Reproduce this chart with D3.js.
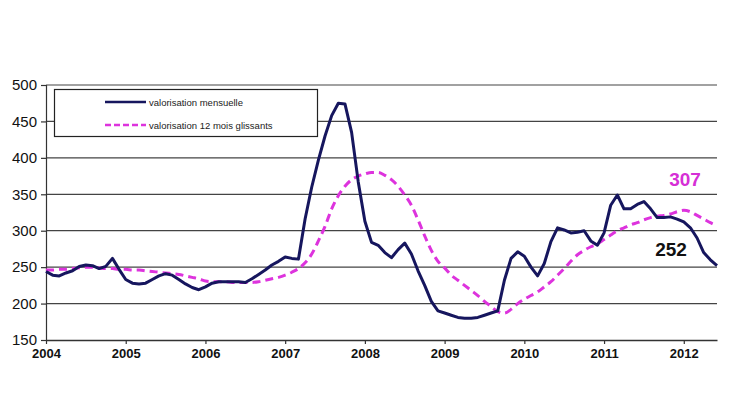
<!DOCTYPE html>
<html><head><meta charset="utf-8">
<script src="https://cdn.jsdelivr.net/npm/d3@7"></script>
<style>body{margin:0;background:#fff}svg{display:block;font-family:"Liberation Sans",Arial,sans-serif}</style>
</head><body><svg id="c" width="747" height="402"></svg>
<script>
const yearLabels = ["2004","2005","2006","2007","2008","2009","2010","2011","2012"];
const yTicks = [150,200,250,300,350,400,450,500];
const seriesNames = ["valorisation mensuelle","valorisation 12 mois glissants"];
// monthly values Jan 2004 .. Jun 2012
const mensuelle = [244,239,238,242,245,251,253,252,248,251,262,247,
  233,228,227,228,233,238,241,239,233,227,222,219,
  223,228,230,230,230,230,229,234,240,246,253,258,
  264,262,261,316,360,397,430,458,475,474,435,367,
  313,284,280,270,263,274,283,268,245,225,203,190,
  187,184,181,180,180,181,184,187,190,232,262,271,
  265,250,238,255,285,304,301,297,298,300,286,280,
  297,335,349,330,330,336,340,330,318,318,319,316,
  312,304,290,270,260,252];
const glissants = [246,246,247,247,248,249,250,250,249,248,248,247,
  247,246,246,245,244,243,242,241,240,238,236,234,
  231,230,230,230,229,229,229,229,230,232,234,236,
  239,243,248,256,268,286,306,330,348,361,370,375,
  378,380,380,376,370,361,349,335,315,293,273,258,
  249,239,232,225,218,211,203,196,189,187,192,200,
  206,211,216,223,230,239,248,258,267,273,278,282,
  288,294,300,304,308,311,315,318,320,321,323,326,
  328,326,321,316,311,307];
const endLabels = ["307","252"];

const svg = d3.select("#c");
const x = d3.scaleLinear().domain([0, mensuelle.length-1]).range([46, 717]);
const y = d3.scaleLinear().domain([150, 500]).range([340, 85]);

// gridlines
svg.append("g").selectAll("line").data(yTicks.filter(d=>d>150)).join("line")
  .attr("x1",46).attr("x2",717).attr("y1",d=>y(d)).attr("y2",d=>y(d))
  .attr("stroke","#444").attr("stroke-width",1.2);

// y axis
const ya = svg.append("g").attr("transform","translate(46,0)")
  .call(d3.axisLeft(y).tickValues(yTicks).tickSize(5).tickPadding(4));
ya.select(".domain").attr("stroke","#333").attr("stroke-width",1.2);
ya.selectAll(".tick line").attr("stroke","#333").attr("stroke-width",1.2);
ya.selectAll("text").attr("font-size",15).attr("fill","#111").attr("font-family","Liberation Sans, Arial, sans-serif");

// x axis
const xa = svg.append("g").attr("transform","translate(0,340)")
  .call(d3.axisBottom(x).tickValues(yearLabels.map((d,i)=>i*12)).tickFormat((d,i)=>yearLabels[i]).tickSize(4).tickSizeOuter(0).tickPadding(5));
xa.select(".domain").attr("stroke","#333").attr("stroke-width",1.5);
xa.selectAll(".tick line").attr("stroke","#333").attr("stroke-width",1.2);
xa.selectAll("text").attr("font-size",13).attr("font-weight","bold").attr("fill","#111").attr("font-family","Liberation Sans, Arial, sans-serif");

const smooth = d3.line().x((d,i)=>x(i)).y(d=>y(d)).curve(d3.curveMonotoneX);
const straight = d3.line().x((d,i)=>x(i)).y(d=>y(d));
svg.append("path").datum(glissants).attr("d",smooth).attr("fill","none")
  .attr("stroke","#dd33dd").attr("stroke-width",3).attr("stroke-dasharray","8,5");
svg.append("path").datum(mensuelle).attr("d",straight).attr("fill","none")
  .attr("stroke","#16165e").attr("stroke-width",3).attr("stroke-linejoin","round");

// legend
const lg = svg.append("g");
lg.append("rect").attr("x",54.5).attr("y",89.5).attr("width",263).attr("height",47)
  .attr("fill","#fff").attr("stroke","#222").attr("stroke-width",1.2);
const legendItems = [{name:seriesNames[0],c:"#16165e",dash:null,yy:102},{name:seriesNames[1],c:"#dd33dd",dash:"6,3",yy:125}];
legendItems.forEach(it=>{
  lg.append("line").attr("x1",105).attr("x2",146).attr("y1",it.yy).attr("y2",it.yy)
    .attr("stroke",it.c).attr("stroke-width",2.5).attr("stroke-dasharray",it.dash);
  lg.append("text").attr("x",149).attr("y",it.yy+3.5).attr("font-size",9.5).attr("fill","#222").text(it.name);
});

// end labels
svg.append("text").attr("x",685).attr("y",186).attr("text-anchor","middle").attr("font-size",19)
  .attr("font-weight","bold").attr("fill","#d62fd6").text(endLabels[0]);
svg.append("text").attr("x",671).attr("y",256).attr("text-anchor","middle").attr("font-size",19)
  .attr("font-weight","bold").attr("fill","#111").text(endLabels[1]);
</script></body></html>
